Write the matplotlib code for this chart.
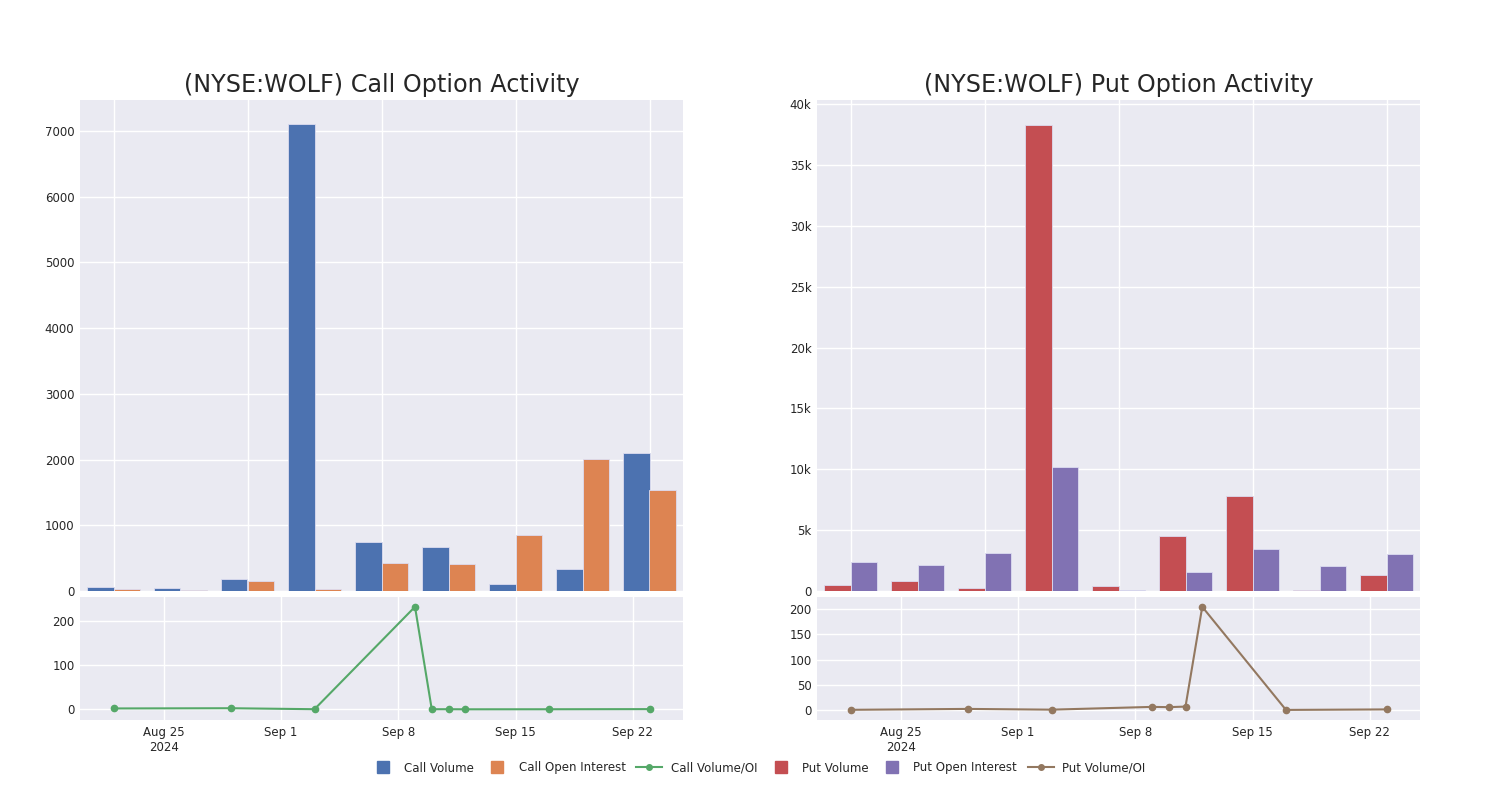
import numpy as np
import matplotlib.pyplot as plt
import matplotlib.dates as mdates
from matplotlib.lines import Line2D
from matplotlib.ticker import FuncFormatter, MultipleLocator

# data
dates = ['2024-08-22', '2024-08-29', '2024-09-03', '2024-09-09', '2024-09-10',
         '2024-09-11', '2024-09-12', '2024-09-17', '2024-09-23']
call_volume = [60, 50, 180, 7100, 750, 670, 100, 335, 2100]
call_oi = [30, 10, 150, 30, 430, 405, 855, 2010, 1540]
call_ratio = [2.0, 2.5, 0.3, 231, 0.3, 0.3, 0.1, 0.2, 0.5]
put_volume = [470, 820, 280, 38300, 390, 4500, 7770, 80, 1290]
put_oi = [2360, 2170, 3100, 10180, 55, 1560, 3430, 2030, 3020]
put_ratio = [0.2, 2.0, 0.5, 6.0, 5.5, 6.6, 204.5, 0.0, 1.0]

BLUE, ORANGE, GREEN = '#4C72B0', '#DD8452', '#55A868'
RED, PURPLE, BROWN = '#C44E52', '#8172B3', '#937860'
BG = '#EAEAF2'
TXT = '#262626'

plt.rcParams['font.family'] = ['DejaVu Sans']

dt = np.array(dates, dtype='datetime64[D]').astype('O')
idx = np.arange(len(dates))

fig = plt.figure(figsize=(15, 8), dpi=100)
W, H = 1500, 800


def box(x0, y0, x1, y1):
    return [x0 / W, 1 - y1 / H, (x1 - x0) / W, (y1 - y0) / H]


def style(ax):
    ax.set_facecolor(BG)
    for s in ax.spines.values():
        s.set_visible(False)
    ax.grid(True, color='white', linewidth=1.0)
    ax.set_axisbelow(True)
    ax.tick_params(length=0, labelsize=8.5, colors=TXT, pad=4)


def bar_panel(ax, v1, v2, c1, c2, ylim, step, fmt=None):
    style(ax)
    ax.bar(idx - 0.2, v1, width=0.4, color=c1, edgecolor='#dcdcf0', linewidth=0.6)
    ax.bar(idx + 0.2, v2, width=0.4, color=c2, edgecolor='#dcdcf0', linewidth=0.6)
    ax.set_xlim(-0.5, 8.5)
    ax.set_xticks(idx[::2])
    ax.set_xticklabels([])
    ax.set_ylim(0, ylim)
    ax.yaxis.set_major_locator(MultipleLocator(step))
    if fmt:
        ax.yaxis.set_major_formatter(FuncFormatter(fmt))


def date_fmt(x, pos):
    d = mdates.num2date(x)
    s = d.strftime('%b ') + str(d.day)
    if pos == 0:
        s += '\n' + d.strftime('%Y')
    return s


def line_panel(ax, y, c, ylim, step):
    style(ax)
    ax.plot(dt, y, color=c, linewidth=1.5, marker='o', markersize=4.5)
    ax.set_xlim(np.datetime64('2024-08-20').astype('O'), np.datetime64('2024-09-25').astype('O'))
    ax.xaxis.set_major_locator(mdates.WeekdayLocator(byweekday=mdates.SU))
    ax.xaxis.set_major_formatter(FuncFormatter(date_fmt))
    ax.set_ylim(*ylim)
    ax.yaxis.set_major_locator(MultipleLocator(step))


# call side
ax1 = fig.add_axes(box(80, 100, 683, 591))
bar_panel(ax1, call_volume, call_oi, BLUE, ORANGE, 7472, 1000)
ax1.set_title('(NYSE:WOLF) Call Option Activity', fontsize=17.2, color=TXT, pad=6)
ax2 = fig.add_axes(box(80, 597, 683, 720))
line_panel(ax2, call_ratio, GREEN, (-24, 253), 100)

# put side
ax3 = fig.add_axes(box(817, 100, 1420, 591))
bar_panel(ax3, put_volume, put_oi, RED, PURPLE, 40330, 5000,
          lambda v, p: '0' if v == 0 else f'{int(v / 1000)}k')
ax3.set_title('(NYSE:WOLF) Put Option Activity', fontsize=17.2, color=TXT, pad=6)
ax4 = fig.add_axes(box(817, 597, 1420, 720))
line_panel(ax4, put_ratio, BROWN, (-20, 224), 50)

handles = [
    Line2D([], [], linestyle='none', marker='s', markersize=9, color=BLUE),
    Line2D([], [], linestyle='none', marker='s', markersize=9, color=ORANGE),
    Line2D([], [], color=GREEN, marker='o', markersize=4, linewidth=1.5),
    Line2D([], [], linestyle='none', marker='s', markersize=9, color=RED),
    Line2D([], [], linestyle='none', marker='s', markersize=9, color=PURPLE),
    Line2D([], [], color=BROWN, marker='o', markersize=4, linewidth=1.5),
]
labels = ['Call Volume', 'Call Open Interest', 'Call Volume/OI',
          'Put Volume', 'Put Open Interest', 'Put Volume/OI']
leg = fig.legend(handles, labels, loc='center', bbox_to_anchor=(0.505, 1 - 768 / H),
                 ncol=6, frameon=False, fontsize=8.5, handlelength=2.2,
                 columnspacing=0.9, handletextpad=0.7)
for t in leg.get_texts():
    t.set_color(TXT)

fig.savefig('out.png', dpi=100, facecolor='white')
